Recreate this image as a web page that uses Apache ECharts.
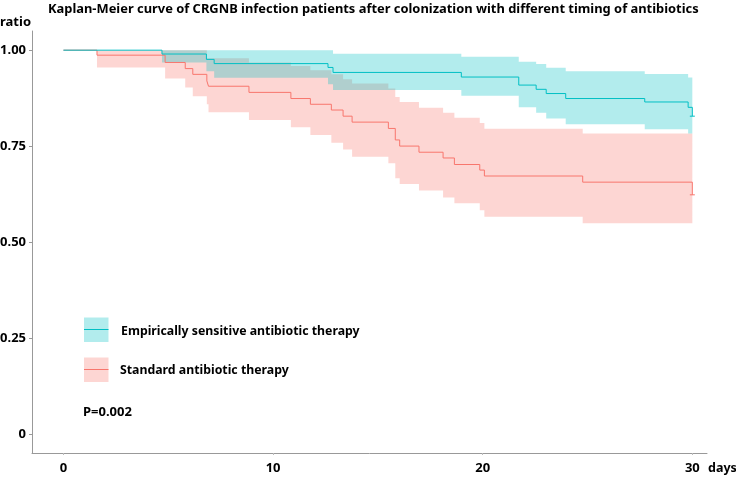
<!DOCTYPE html>
<html>
<head>
<meta charset="utf-8">
<script src="https://cdn.jsdelivr.net/npm/echarts@6/dist/echarts.min.js"></script>
<style>
html,body{margin:0;padding:0;background:#fff;}
#chart{width:736px;height:477px;}
</style>
</head>
<body>
<div id="chart"></div>
<script>
// ---- Data ----
const titleText = 'Kaplan-Meier curve of CRGNB infection patients after colonization with different timing of antibiotics';
const seriesNames = ['Empirically sensitive antibiotic therapy', 'Standard antibiotic therapy'];
const pValueText = 'P=0.002';
const xTicks = [0, 10, 20, 30];
const yTicks = [0, 0.25, 0.5, 0.75, 1];

// Empirically sensitive antibiotic therapy
const empTime = [0, 4.7, 6.82, 7.19, 12.62, 12.86, 18.98, 21.72, 22.55, 23.03, 23.96, 27.73, 29.8, 30];
const empSurv = [1.0, 0.990, 0.976, 0.965, 0.955, 0.942, 0.930, 0.909, 0.898, 0.887, 0.874, 0.865, 0.851, 0.828];
const empBandTime = [4.7, 6.82, 7.19, 12.62, 12.86, 18.98, 21.72, 22.55, 23.03, 23.96, 27.73, 29.8, 30];
const empUpper = [1.0, 1.0, 1.0, 1.0, 0.991, 0.983, 0.970, 0.964, 0.954, 0.945, 0.938, 0.929, 0.929];
const empLower = [0.968, 0.945, 0.928, 0.911, 0.896, 0.881, 0.851, 0.837, 0.822, 0.807, 0.794, 0.783, 0.783];

// Standard antibiotic therapy
const stdTime = [0, 1.6, 4.85, 5.81, 6.17, 6.84, 6.92, 8.85, 10.85, 11.78, 12.78, 13.34, 13.77, 15.5, 15.83, 16.04, 16.96, 18.11, 18.65, 19.86, 20.08, 24.77, 30];
const stdSurv = [1.0, 0.987, 0.968, 0.952, 0.937, 0.920, 0.906, 0.890, 0.874, 0.859, 0.844, 0.828, 0.8125, 0.796, 0.766, 0.75, 0.734, 0.719, 0.702, 0.6875, 0.672, 0.656, 0.623];
const stdBandTime = [1.6, 4.85, 5.81, 6.17, 6.84, 6.92, 8.85, 10.85, 11.78, 12.78, 13.34, 13.77, 15.5, 15.83, 16.04, 16.96, 18.11, 18.65, 19.86, 20.08, 24.77, 30];
const stdUpper = [1.0, 1.0, 1.0, 1.0, 0.979, 0.979, 0.968, 0.959, 0.948, 0.937, 0.924, 0.913, 0.900, 0.878, 0.865, 0.850, 0.837, 0.824, 0.810, 0.795, 0.783, 0.783];
const stdLower = [0.955, 0.926, 0.903, 0.880, 0.859, 0.8385, 0.818, 0.799, 0.779, 0.759, 0.741, 0.722, 0.705, 0.666, 0.651, 0.634, 0.616, 0.601, 0.583, 0.566, 0.549, 0.549];

// ---- Styles ----
const empColor = '#00BFC4';
const stdColor = '#F8766D';
const empBand = 'rgba(0,191,196,0.3)';
const stdBand = 'rgba(248,118,109,0.3)';
const FONT = '"Noto Sans", "DejaVu Sans", sans-serif';

// font size that makes a bold text span a given width
const measureCtx = document.createElement('canvas').getContext('2d');
function fitSize(text, width) {
  measureCtx.font = 'bold 100px ' + FONT;
  const w = measureCtx.measureText(text).width;
  return Math.round(100 * width / w * 10) / 10;
}
const titleSize = fitSize(titleText, 649);
const legendSize = fitSize(seriesNames[0], 239);

function linePoints(t, s) {
  return t.map((x, i) => {
    const item = { value: [x, s[i]] };
    if (i === t.length - 1) { item.symbol = 'rect'; item.symbolSize = [5, 1]; }
    return item;
  });
}

// Step-shaped confidence band drawn as one polygon through the axes' scales
function bandSeries(t, lo, up, color, z) {
  const data = t.map((x, i) => [x, lo[i], up[i]]);
  return {
    type: 'custom', silent: true, z: z, clip: true,
    encode: { x: 0, y: [1, 2] },
    data: data,
    renderItem: function (params, api) {
      if (params.dataIndex !== 0) return null;
      const top = [], bottom = [];
      for (let i = 0; i < data.length; i++) {
        const x0 = data[i][0];
        const x1 = i < data.length - 1 ? data[i + 1][0] : data[i][0];
        top.push(api.coord([x0, data[i][2]]), api.coord([x1, data[i][2]]));
        bottom.push(api.coord([x0, data[i][1]]), api.coord([x1, data[i][1]]));
      }
      const pts = top.concat(bottom.reverse());
      return { type: 'polygon', shape: { points: pts }, style: { fill: color } };
    }
  };
}

const chart = echarts.init(document.getElementById('chart'), null, { renderer: 'canvas' });
const option = {
  animation: false,
  backgroundColor: '#fff',
  title: {
    text: titleText, left: 48, top: 3, padding: 0,
    textStyle: { fontFamily: FONT, fontSize: titleSize, fontWeight: 'bold', color: '#000' }
  },
  grid: { left: 32, right: 29, top: 31, bottom: 24, outerBoundsMode: 'none', containLabel: false },
  xAxis: {
    type: 'value', min: -1.5, max: 30.7,
    name: 'days', nameLocation: 'end', nameGap: 1,
    nameTextStyle: { fontFamily: FONT, fontSize: 12.5, fontWeight: 'bold', color: '#000', align: 'left', verticalAlign: 'top', padding: [9, 0, 0, 0] },
    axisLine: { onZero: false, lineStyle: { color: '#999', width: 1 } },
    axisTick: { show: true, customValues: xTicks, length: 2, inside: false, lineStyle: { color: '#bbb' } },
    axisLabel: { customValues: xTicks, margin: 9, fontFamily: FONT, fontSize: 13, fontWeight: 'bold', color: '#000' },
    splitLine: { show: false }
  },
  yAxis: {
    type: 'value', min: -0.05, max: 1.05,
    name: 'ratio', nameLocation: 'end', nameGap: 2,
    nameTextStyle: { fontFamily: FONT, fontSize: 13, fontWeight: 'bold', color: '#000', align: 'right', padding: [0, 1, 0, 0] },
    axisLine: { show: true, onZero: false, lineStyle: { color: '#999', width: 1 } },
    axisTick: { show: true, customValues: yTicks, length: 3, lineStyle: { color: '#999' } },
    axisLabel: { customValues: yTicks, margin: 6, fontFamily: FONT, fontSize: 13, fontWeight: 'bold', color: '#000',
      formatter: v => (v === 0 ? '0' : v.toFixed(2)) },
    splitLine: { show: false }
  },
  series: [
    bandSeries(stdBandTime, stdLower, stdUpper, stdBand, 1),
    bandSeries(empBandTime, empLower, empUpper, empBand, 2),
    { name: seriesNames[1], type: 'line', step: 'end', data: linePoints(stdTime, stdSurv),
      symbol: 'none', showSymbol: true, itemStyle: { color: stdColor }, lineStyle: { color: stdColor, width: 1 }, z: 3 },
    { name: seriesNames[0], type: 'line', step: 'end', data: linePoints(empTime, empSurv),
      symbol: 'none', showSymbol: true, itemStyle: { color: empColor }, lineStyle: { color: empColor, width: 1 }, z: 4 }
  ],
  graphic: [
    { type: 'rect', left: 84, top: 317.5, shape: { width: 24.5, height: 24.5 }, style: { fill: empBand } },
    { type: 'line', shape: { x1: 84, y1: 329.5, x2: 108.5, y2: 329.5 }, style: { stroke: empColor, lineWidth: 1 } },
    { type: 'text', style: { x: 121, y: 331, text: seriesNames[0], font: 'bold ' + legendSize + 'px ' + FONT, fill: '#000', verticalAlign: 'middle' } },
    { type: 'rect', left: 84, top: 357.5, shape: { width: 24.5, height: 24.5 }, style: { fill: stdBand } },
    { type: 'line', shape: { x1: 84, y1: 369.5, x2: 108.5, y2: 369.5 }, style: { stroke: stdColor, lineWidth: 1 } },
    { type: 'text', style: { x: 120, y: 370, text: seriesNames[1], font: 'bold ' + legendSize + 'px ' + FONT, fill: '#000', verticalAlign: 'middle' } },
    { type: 'text', style: { x: 83, y: 412, text: pValueText, font: 'bold 13px ' + FONT, fill: '#000', verticalAlign: 'middle' } }
  ]
};
chart.setOption(option);
</script>
</body>
</html>
